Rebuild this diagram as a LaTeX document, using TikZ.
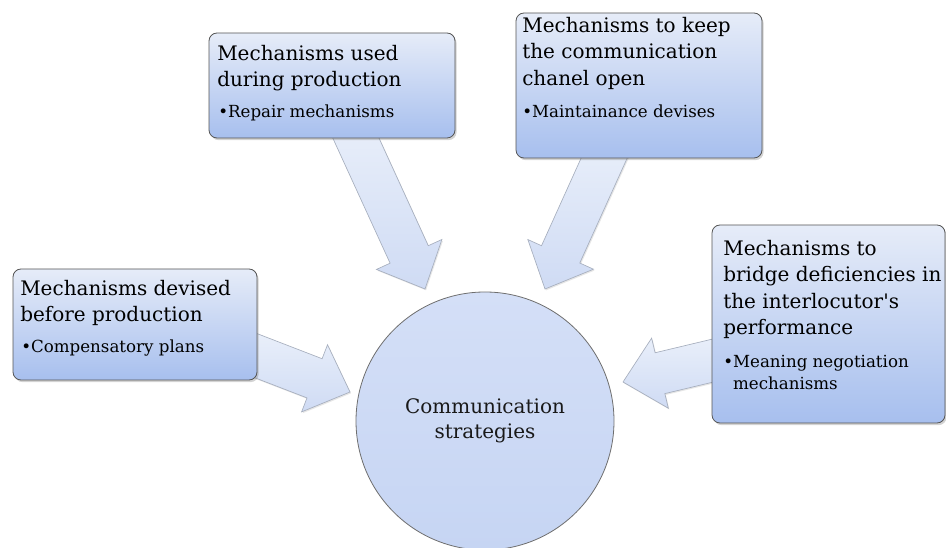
\documentclass[tikz,border=0pt]{standalone}
\usepackage{fontspec}
\setmainfont{DejaVu Serif}
\usetikzlibrary{calc,fit,shadows,backgrounds}

\definecolor{boxtop}{HTML}{E6ECF8}
\definecolor{boxbot}{HTML}{A7BFEE}
\definecolor{arrtop}{HTML}{E9EFFA}
\definecolor{arrbot}{HTML}{CFDBF4}
\definecolor{circtop}{HTML}{D4DFF7}
\definecolor{circbot}{HTML}{C6D5F3}
\definecolor{edgegray}{HTML}{555555}
\definecolor{arredge}{HTML}{A7AFBE}

\tikzset{
	mechbox/.style={draw=edgegray, line width=0.6pt, rounded corners=6pt, top color=boxtop, bottom color=boxbot, inner sep=0pt,
		drop shadow={shadow xshift=1.2pt, shadow yshift=-1.6pt, opacity=0.35}},
	headtext/.style={anchor=north west, align=left, inner sep=0pt, font=\fontsize{15}{19.8}\selectfont, text=black},
	bullettext/.style={anchor=north west, align=left, inner sep=0pt, font=\fontsize{12.5}{16.5}\selectfont, text=black},
	hub/.style={circle, draw=edgegray!85, line width=0.6pt, top color=circtop, bottom color=circbot, minimum size=193.5pt,
		inner sep=0pt, align=center, font=\fontsize{15}{19}\selectfont, text=black!90},
	bigarrow/.style={draw=arredge, line width=0.5pt, top color=arrtop, bottom color=arrbot,
		drop shadow={shadow xshift=0.8pt, shadow yshift=-1pt, opacity=0.2}}
}

\def\blockarrow(#1)(#2){%
	\path ($(#2)!28.5pt!(#1)$) coordinate (ah);
	\draw[bigarrow] ($(#1)!15.75pt!90:(#2)$) -- ($(ah)!15.75pt!90:(#2)$) -- ($(ah)!27pt!90:(#2)$) -- (#2)
		-- ($(ah)!27pt!-90:(#2)$) -- ($(ah)!15.75pt!-90:(#2)$) -- ($(#1)!15.75pt!-90:(#2)$) -- cycle;}

\begin{document}
\begin{tikzpicture}[x=0.75pt, y=-0.75pt]
		%%%%% START %%%%%
		\useasboundingbox (0, 0) rectangle (946, 548);
		
		% boxes and hub
		\node[mechbox, fit={(13, 269) (257, 380)}] (b1) {};
		\node[mechbox, fit={(209, 33) (455, 138)}] (b2) {};
		\node[mechbox, fit={(516, 13) (762, 158)}] (b3) {};
		\node[mechbox, fit={(712, 225) (945, 423)}] (b4) {};
		
		\node[hub] (cs) at (485, 421) {Communication\\strategies};
		
		% texts
		\node[headtext] (h1) at (20, 280) {Mechanisms devised\\before production};
		\node[bullettext] (p1) at (21, 340) {•Compensatory plans};
		
		\node[headtext] (h2) at (217, 45) {Mechanisms used\\during production};
		\node[bullettext] (p2) at (218, 105) {•Repair mechanisms};
		
		\node[headtext] (h3) at (522, 17) {Mechanisms to keep\\the communication\\chanel open};
		\node[bullettext] (p3) at (522, 105) {•Maintainance devises};
		
		\node[headtext] (h4) at (723, 240) {Mechanisms to\\bridge deficiencies in\\the interlocutor\textquotesingle s\\performance};
		\node[bullettext] (p4) at (723, 355) {•Meaning negotiation\\\phantom{•}mechanisms};
		
		% arrows into the hub
		\coordinate (s1) at ($(b1.east)+(-11, 27.5)$);
		\coordinate (t1) at ($(cs)+(-135, -29)$);
		\coordinate (s2) at ($(b2.south)+(19, -11)$);
		\coordinate (t2) at ($(cs)+(-60, -132)$);
		\coordinate (s3) at ($(b3.south)+(-30, -11)$);
		\coordinate (t3) at ($(cs)+(60, -132)$);
		\coordinate (s4) at ($(b4.west)+(12, 34)$);
		\coordinate (t4) at ($(cs)+(138, -39)$);
		
		\begin{scope}[on background layer]
			\blockarrow(s1)(t1)
			\blockarrow(s2)(t2)
			\blockarrow(s3)(t3)
			\blockarrow(s4)(t4)
		\end{scope}
		%%%%% END %%%%%
\end{tikzpicture}
\end{document}
